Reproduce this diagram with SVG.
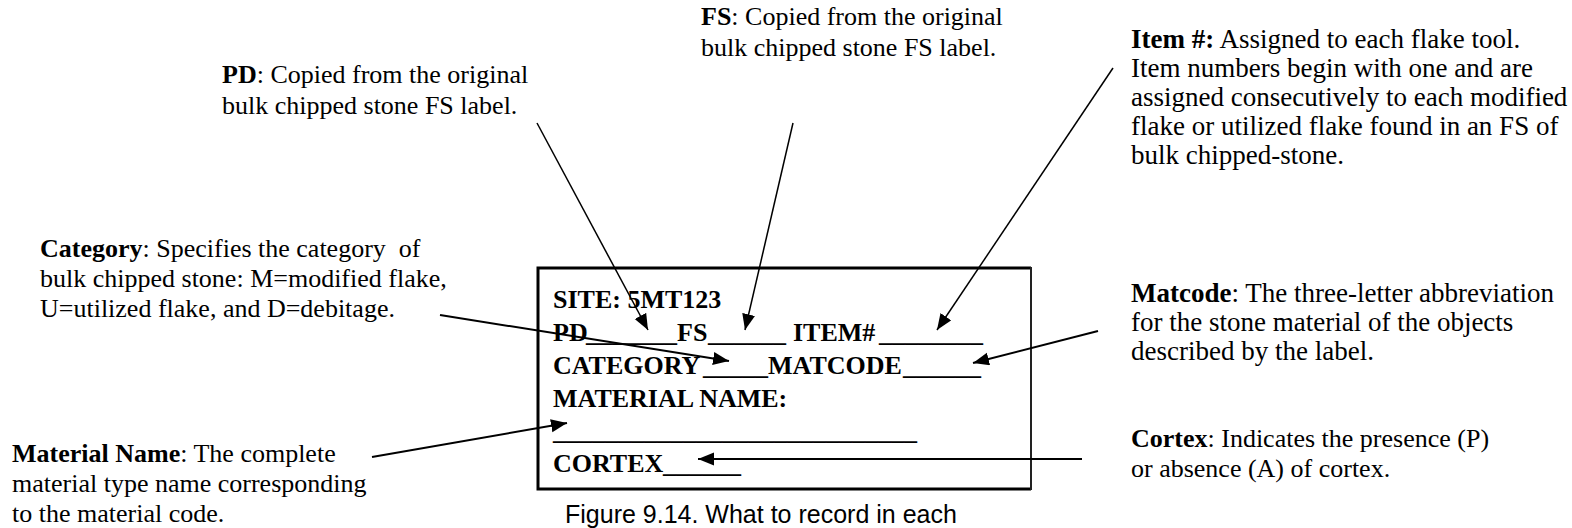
<svg xmlns="http://www.w3.org/2000/svg" width="1572" height="528" viewBox="0 0 1572 528">
<style>
.ann{font-family:"Liberation Serif","Times New Roman",serif;font-size:26px;fill:#000}
.big{font-size:27px}
.ann .b{font-weight:bold}
.lbl{font-family:"Liberation Serif","Times New Roman",serif;font-size:26px;font-weight:bold;fill:#000}
.cap{font-family:"Liberation Sans",Arial,sans-serif;font-size:25px;fill:#000}
.con{stroke:#000;fill:none;marker-end:url(#ah)}
.thin{stroke-width:1.5}
.thick{stroke-width:2}
</style>
<defs>
<marker id="ah" markerUnits="userSpaceOnUse" markerWidth="17" markerHeight="14" refX="16" refY="6.5" orient="auto">
<path d="M0,0 L16,6.5 L0,13 Z" fill="#000"/>
</marker>
</defs>
<rect width="1572" height="528" fill="#fff"/>

<g id="node-pd">
<text class="ann" x="222" y="83"><tspan class="b">PD</tspan>: Copied from the original</text>
<text class="ann" x="222" y="114">bulk chipped stone FS label.</text>
</g>

<g id="node-fs">
<text class="ann" x="701" y="25"><tspan class="b">FS</tspan>: Copied from the original</text>
<text class="ann" x="701" y="56">bulk chipped stone FS label.</text>
</g>

<g id="node-item">
<text class="ann big" x="1131" y="48"><tspan class="b">Item #:</tspan> Assigned to each flake tool.</text>
<text class="ann big" x="1131" y="77">Item numbers begin with one and are</text>
<text class="ann big" x="1131" y="106">assigned consecutively to each modified</text>
<text class="ann big" x="1131" y="135">flake or utilized flake found in an FS of</text>
<text class="ann big" x="1131" y="164">bulk chipped-stone.</text>
</g>

<g id="node-category">
<text class="ann" x="40" y="257"><tspan class="b">Category</tspan>: Specifies the category&#160; of</text>
<text class="ann" x="40" y="287">bulk chipped stone: M=modified flake,</text>
<text class="ann" x="40" y="317">U=utilized flake, and D=debitage.</text>
</g>

<g id="node-matcode">
<text class="ann big" x="1131" y="302"><tspan class="b">Matcode</tspan>: The three-letter abbreviation</text>
<text class="ann big" x="1131" y="331">for the stone material of the objects</text>
<text class="ann big" x="1131" y="360">described by the label.</text>
</g>

<g id="node-material-name">
<text class="ann" x="12" y="462"><tspan class="b">Material Name</tspan>: The complete</text>
<text class="ann" x="12" y="492">material type name corresponding</text>
<text class="ann" x="12" y="522">to the material code.</text>
</g>

<g id="node-cortex">
<text class="ann" x="1131" y="447"><tspan class="b">Cortex</tspan>: Indicates the presence (P)</text>
<text class="ann" x="1131" y="477">or absence (A) of cortex.</text>
</g>

<g id="node-label">
<path d="M1031,268 L538,268 L538,489 L1031,489" fill="none" stroke="#000" stroke-width="3"/>
<line x1="1031" y1="267" x2="1031" y2="490" stroke="#222" stroke-width="2"/>
<text class="lbl" x="553" y="308">SITE: 5MT123</text>
<text class="lbl" y="341"><tspan x="553">PD</tspan><tspan x="586">_______</tspan><tspan x="677">FS</tspan><tspan x="708">______</tspan><tspan x="793">ITEM#</tspan><tspan x="879">________</tspan></text>
<text class="lbl" y="374"><tspan x="553">CATEGORY</tspan><tspan x="703">_____</tspan><tspan x="768">MATCODE</tspan><tspan x="903">______</tspan></text>
<text class="lbl" x="553" y="407">MATERIAL NAME:</text>
<text class="lbl" x="553" y="439">____________________________</text>
<text class="lbl" y="472"><tspan x="553">CORTEX</tspan><tspan x="663">______</tspan></text>
</g>

<g id="caption">
<text class="cap" x="565" y="523">Figure 9.14. What to record in each</text>
</g>

<g id="connectors">
<line class="con thin" x1="537" y1="123" x2="648" y2="330"/>
<line class="con thin" x1="793" y1="123" x2="745" y2="330"/>
<line class="con thin" x1="1113" y1="68" x2="937" y2="330"/>
<line class="con thick" x1="440" y1="315" x2="729" y2="361"/>
<line class="con thick" x1="1098" y1="331" x2="973" y2="363"/>
<line class="con thick" x1="372" y1="457" x2="567" y2="423"/>
<line class="con thick" x1="1082" y1="459" x2="698" y2="459"/>
</g>
</svg>
